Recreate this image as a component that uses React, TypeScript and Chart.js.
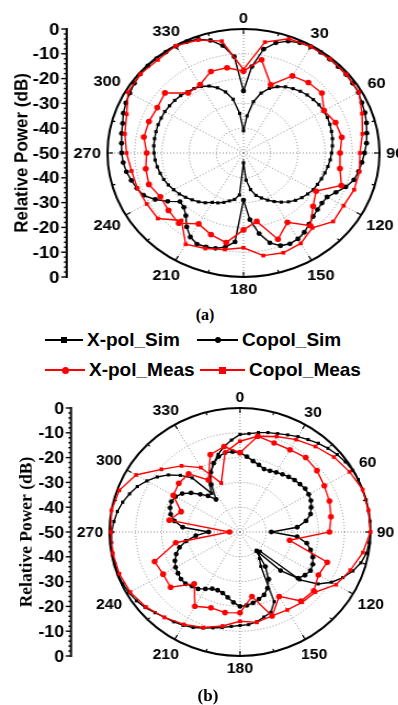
import React, { useEffect, useRef } from "react";
import { Chart, registerables } from "chart.js";

Chart.register(...registerables);

// ---------- categories / ticks ----------
const ANGLES = [0, 5, 10, 15, 20, 25, 30, 35, 40, 45, 50, 55, 60, 65, 70, 75, 80, 85, 90, 95, 100, 105, 110, 115, 120, 125, 130, 135, 140, 145, 150, 155, 160, 165, 170, 175, 180, 185, 190, 195, 200, 205, 210, 215, 220, 225, 230, 235, 240, 245, 250, 255, 260, 265, 270, 275, 280, 285, 290, 295, 300, 305, 310, 315, 320, 325, 330, 335, 340, 345, 350, 355];
const ANGLE_TICKS = [0, 30, 60, 90, 120, 150, 180, 210, 240, 270, 300, 330];
const DB_TICKS = [0, -10, -20, -30, -40, -50];
const SERIES_NAMES = ["X-pol_Sim", "Copol_Sim", "X-pol_Meas", "Copol_Meas"];

// ---------- plot (a) ----------
const A_XPOL_SIM = [-41, -35, -29, -25, -22.3, -20.5, -19.2, -18.3, -17.5, -16.9, -16.5, -16.1, -16, -16, -16.2, -16.5, -16.8, -17.2, -17.6, -18, -18.5, -19, -19.5, -20, -20.4, -21.2, -22, -23, -24.3, -25.8, -27.4, -29, -30.7, -32.3, -35, -39, -46, -33, -31, -30, -28.8, -27.8, -27, -25.5, -24.3, -23.3, -22.2, -21.2, -20.4, -19.5, -18.8, -18.3, -17.8, -17.4, -17.1, -16.9, -16.8, -16.7, -16.6, -16.6, -16.6, -16.8, -17, -17.3, -17.8, -18.3, -19, -20.2, -22, -24.5, -28, -34];
const A_COPOL_SIM = [-25, -15, -7.5, -4, -2, -1, -0.5, -0.5, -0.7, -0.8, -0.8, -1, -1.2, -2, -2.5, -3.2, -4, -4.6, -5.5, -6.3, -7, -8, -10, -12.5, -14.5, -14.8, -14.5, -13.8, -12.5, -11, -10, -9.6, -10.2, -12.5, -17, -23, -31, -14, -11.5, -10.2, -9.7, -9.5, -10.9, -13.6, -17, -19, -19.5, -16, -12.5, -9.5, -8.3, -7.3, -6.3, -5.6, -5.2, -5, -4.5, -4, -3, -2.3, -1.7, -1, -0.5, -0.3, -0.3, -0.3, -0.3, -0.5, -1.2, -3, -6, -11];
const A_XPOL_MEAS = [-17, -11.8, -20.7, -14.1, -12.9, -12.4, -15.8, -14, -13.3, -14.5, -14, -11.7, -19.2, -16.6, -11.7, -17.7, -13, -22, -19, -13.3, -15, -17, -13, -14, -14.7, -13, -13.5, -14.4, -12.8, -13, -13.4, -12.3, -18.4, -18.1, -15, -15.1];
const A_COPOL_MEAS = [-16.3, -4.6, -1, -0.5, -0.5, -0.6, -1, -3.6, -5.6, -7.2, -6.7, -6.7, -7.5, -7, -10.6, -7.9, -7.2, -8, -11.8, -10.5, -9, -7.5, -14.5, -8.9, -8.9, -8.5, -8.2, -7, -5.7, -4.3, -1, -0.5, -1, -0.1, -1.5, -4.2];

// ---------- plot (b) ----------
const B_XPOL_SIM = [-10.7, -10.2, -9.3, -8.5, -7.8, -6.8, -5.6, -4.5, -3.3, -2.3, -1.4, -0.7, -0.2, 0, 0, 0, 0, 0, 0, -0.3, -0.8, -2, -4, -6.5, -9.5, -13.5, -20, -39, -39, -37, -34, -19, -15.5, -14.5, -13.2, -12.5, -12.3, -11.8, -10.9, -10, -8.8, -7.5, -6.5, -5.8, -5.1, -4, -2.6, -1.6, -1, -0.5, -0.3, -0.4, -0.5, -0.6, -0.8, -1.5, -2.3, -3.5, -5, -6.6, -8.8, -11.3, -14.2, -17.7, -21.5, -31, -26, -23.5, -20.5, -17.6, -15, -12.8];
const B_COPOL_SIM = [-18, -19.5, -21, -22, -23, -22.8, -22.2, -21.6, -21, -20.4, -20, -19.5, -19.6, -20, -21, -22, -24.3, -28, -38, -28, -24, -22, -20.3, -19.2, -18.8, -19.6, -21, -28, -40, -33, -28, -25, -23, -22, -21, -20.3, -20, -21.5, -23.2, -24.5, -25, -24.8, -23.5, -22, -21.5, -20.5, -20.5, -21, -21.5, -22.5, -24, -26, -29, -33, -38, -28, -24.5, -22.5, -21.5, -21, -21.5, -23, -25.5, -28.5, -31, -34, -28, -23.5, -20.5, -18.5, -17.5, -17.5];
const B_XPOL_MEAS = [-18, -10.8, -11.8, -11.7, -10.8, -11.5, -12.7, -13.5, -14.6, -15.7, -30.7, -14.4, -15.3, -13.1, -13.7, -20, -14, -23.6, -17.4, -17, -17.5, -15.4, -22.7, -15.3, -16, -15.2, -25, -46, -22.5, -26, -20.5, -19.4, -19.4, -25.8, -16.8, -15];
const B_COPOL_MEAS = [-13.4, -10.8, -9, -7, -5, -3, -1.5, 0, 0, 0, -2.2, -5, -7.5, -12.3, -13, -13.7, -14, -13, -14, -11.5, -9, -7, -5, -3, -1.5, -0.8, -0.5, -0.5, 0, -0.8, -4, -10.7, -15.2, -20, -29, -17.4];

// measured series are every 10 deg: place them on the 5-deg category axis
const expand = (m: number[]) => ANGLES.map((_, i) => (i % 2 === 0 ? m[i / 2] : null));

function makeDatasets(xs: number[], cs: number[], xm: number[], cm: number[]) {
  return [
    { label: SERIES_NAMES[0], data: xs, borderColor: "#000", backgroundColor: "#000", pointBackgroundColor: "#000", pointStyle: "rect", pointRadius: 2.2, pointBorderWidth: 0, borderWidth: 1.4, order: 2 },
    { label: SERIES_NAMES[1], data: cs, borderColor: "#000", backgroundColor: "#000", pointBackgroundColor: "#000", pointStyle: "circle", pointRadius: 2.4, pointBorderWidth: 0, borderWidth: 1.4, order: 2 },
    { label: SERIES_NAMES[2], data: expand(xm), borderColor: "#f00", backgroundColor: "#f00", pointBackgroundColor: "#f00", pointStyle: "circle", pointRadius: 2.8, pointBorderWidth: 0, borderWidth: 1.4, spanGaps: true, order: 1 },
    { label: SERIES_NAMES[3], data: expand(cm), borderColor: "#f00", backgroundColor: "#f00", pointBackgroundColor: "#f00", pointStyle: "rect", pointRadius: 2.6, pointBorderWidth: 0, borderWidth: 1.4, spanGaps: true, order: 1 },
  ];
}

type Cfg = {
  top: number;
  width: number;
  height: number;
  sx: number;
  pad: { left: number; right: number; top: number; bottom: number };
  axisX: number;
  titleX: number;
  titleFont: string;
  datasets: any[];
};

const SANS = '"Liberation Sans", Arial, Helvetica, sans-serif';
const SERIF = '"Liberation Serif", "Times New Roman", serif';

function decor(cfg: Cfg) {
  return {
    id: "polarDecor",
    beforeDatasetsDraw(chart: any) {
      const r = chart.scales.r;
      const ctx = chart.ctx as CanvasRenderingContext2D;
      const cx = r.xCenter;
      const cy = r.yCenter;
      const R = r.drawingArea;
      ctx.save();
      ctx.setLineDash([]);
      // outer ring
      ctx.strokeStyle = "#000";
      ctx.lineWidth = 2;
      ctx.beginPath();
      ctx.arc(cx, cy, R, 0, Math.PI * 2);
      ctx.stroke();
      // ring ticks
      ctx.lineWidth = 1.2;
      for (let a = 0; a < 360; a += 15) {
        const t = (a * Math.PI) / 180;
        const len = a % 30 === 0 ? 5 : 3;
        ctx.beginPath();
        ctx.moveTo(cx + Math.sin(t) * R, cy - Math.cos(t) * R);
        ctx.lineTo(cx + Math.sin(t) * (R - len), cy - Math.cos(t) * (R - len));
        ctx.stroke();
      }
      // angle labels
      ctx.fillStyle = "#000";
      ctx.font = `bold 15px ${SANS}`;
      ctx.textAlign = "center";
      ctx.textBaseline = "middle";
      ANGLE_TICKS.forEach((a) => {
        const t = (a * Math.PI) / 180;
        const s = String(a);
        const w = ctx.measureText(s).width;
        const d = R + 6 + (Math.abs(Math.sin(t)) * w) / 2 + (Math.abs(Math.cos(t)) * 11) / 2;
        ctx.fillText(s, cx + Math.sin(t) * d, cy - Math.cos(t) * d + 1);
      });
      // left dB axis
      const ax = cfg.axisX;
      ctx.lineWidth = 2;
      ctx.beginPath();
      ctx.moveTo(ax, cy - R - 1);
      ctx.lineTo(ax, cy + R + 1);
      ctx.stroke();
      ctx.lineWidth = 1.4;
      for (let v = 0; v >= -50; v -= 2) {
        const d = r.getDistanceFromCenterForValue(v);
        const len = v % 10 === 0 ? 5 : 2.5;
        const ys = v === -50 ? [cy] : [cy - d, cy + d];
        ys.forEach((y) => {
          ctx.beginPath();
          ctx.moveTo(ax - len, y);
          ctx.lineTo(ax, y);
          ctx.stroke();
        });
      }
      ctx.font = `bold 17px ${SANS}`;
      ctx.textAlign = "right";
      DB_TICKS.forEach((v) => {
        const d = r.getDistanceFromCenterForValue(v);
        const ys = v === -50 ? [cy] : [cy - d, cy + d];
        ys.forEach((y) => ctx.fillText(String(v), ax - 6.5, y + 1));
      });
      // axis title
      ctx.save();
      ctx.translate(cfg.titleX, cy);
      ctx.rotate(-Math.PI / 2);
      ctx.font = cfg.titleFont;
      ctx.textAlign = "center";
      ctx.textBaseline = "middle";
      ctx.fillText("Relative Power (dB)", 0, 0);
      ctx.restore();
      ctx.restore();
    },
  };
}

function PolarChart({ cfg }: { cfg: Cfg }) {
  const ref = useRef<HTMLCanvasElement>(null);
  useEffect(() => {
    const chart = new Chart(ref.current as HTMLCanvasElement, {
      type: "radar",
      data: { labels: ANGLES.map(String), datasets: cfg.datasets as any },
      options: {
        responsive: false,
        animation: false,
        devicePixelRatio: 1,
        layout: { padding: cfg.pad },
        plugins: { legend: { display: false }, tooltip: { enabled: false } },
        elements: { line: { tension: 0, fill: false } },
        scales: {
          r: {
            min: -50,
            max: 0,
            startAngle: 0,
            ticks: { display: false, stepSize: 10 },
            pointLabels: { display: false },
            grid: {
              circular: true,
              color: (c: any) => (c.tick && c.tick.value === 0 ? "rgba(0,0,0,0)" : "#8a8a8a"),
              lineWidth: 1,
            },
            border: { dash: [1, 2] },
            angleLines: {
              color: "#8a8a8a",
              lineWidth: (c: any) => (c.index % 6 === 0 ? 1 : 0),
              borderDash: [1, 2],
            },
          } as any,
        },
      } as any,
      plugins: [decor(cfg) as any],
    });
    return () => chart.destroy();
  }, []);
  return (
    <div
      style={{
        position: "absolute",
        left: 0,
        top: cfg.top,
        width: cfg.width,
        height: cfg.height,
        transform: `scaleX(${cfg.sx})`,
        transformOrigin: "0 0",
      }}
    >
      <canvas ref={ref} width={cfg.width} height={cfg.height} style={{ display: "block", width: cfg.width, height: cfg.height }} />
    </div>
  );
}

const CFG_A: Cfg = {
  top: 0,
  width: 363,
  height: 300,
  sx: 136 / 124,
  pad: { left: 98, right: 17, top: 29.5, bottom: 22.5 },
  axisX: 60.8,
  titleX: 20,
  titleFont: `bold 17px ${SANS}`,
  datasets: makeDatasets(A_XPOL_SIM, A_COPOL_SIM, A_XPOL_MEAS, A_COPOL_MEAS),
};

const CFG_B: Cfg = {
  top: 380,
  width: 378,
  height: 325,
  sx: 130.5 / 124,
  pad: { left: 104.5, right: 25.5, top: 28.5, bottom: 48.5 },
  axisX: 67.5,
  titleX: 25.7,
  titleFont: `bold 17.5px ${SERIF}`,
  datasets: makeDatasets(B_XPOL_SIM, B_COPOL_SIM, B_XPOL_MEAS, B_COPOL_MEAS),
};

function LegendItem({ x, y, lineW, color, shape, size, text }: { x: number; y: number; lineW: number; color: string; shape: "rect" | "circle"; size: number; text: string }) {
  return (
    <div style={{ position: "absolute", left: x, top: y - 15, height: 30, display: "flex", alignItems: "center" }}>
      <div style={{ position: "relative", width: lineW, height: 30 }}>
        <div style={{ position: "absolute", left: 0, top: 14, width: lineW, height: 2, background: color }} />
        <div
          style={{
            position: "absolute",
            left: lineW / 2 - size / 2,
            top: 15 - size / 2,
            width: size,
            height: size,
            background: color,
            borderRadius: shape === "circle" ? "50%" : 0,
          }}
        />
      </div>
      <span style={{ marginLeft: 4, font: `bold 19px ${SANS}`, lineHeight: "30px", color: "#000", whiteSpace: "nowrap" }}>{text}</span>
    </div>
  );
}

export default function App() {
  return (
    <div style={{ position: "absolute", left: 0, top: 0, width: 398, height: 705, background: "#fff", overflow: "hidden" }}>
      <PolarChart cfg={CFG_A} />
      <div style={{ position: "absolute", left: 185, width: 40, top: 305, height: 20, textAlign: "center", font: `bold 16px ${SERIF}`, lineHeight: "20px" }}>(a)</div>
      <LegendItem x={45} y={340} lineW={38} color="#000" shape="rect" size={6} text={SERIES_NAMES[0]} />
      <LegendItem x={197} y={340} lineW={41} color="#000" shape="circle" size={6} text={SERIES_NAMES[1]} />
      <LegendItem x={45} y={370} lineW={40} color="#f00" shape="circle" size={7} text={SERIES_NAMES[2]} />
      <LegendItem x={200} y={370} lineW={45} color="#f00" shape="rect" size={7} text={SERIES_NAMES[3]} />
      <PolarChart cfg={CFG_B} />
      <div style={{ position: "absolute", left: 188, width: 40, top: 686, height: 20, textAlign: "center", font: `bold 17px ${SERIF}`, lineHeight: "20px" }}>(b)</div>
    </div>
  );
}
